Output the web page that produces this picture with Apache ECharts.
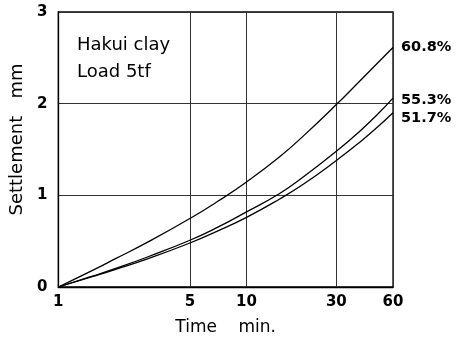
<!DOCTYPE html>
<html>
<head>
<meta charset="utf-8">
<script src="https://cdn.jsdelivr.net/npm/echarts@6/dist/echarts.min.js"></script>
<style>html,body{margin:0;padding:0;background:#fff;}#c{width:457px;height:341px;}</style>
</head>
<body>
<div id="c"></div>
<script>
// Time (min) sampling points
const times = [1, 1.5, 2, 3, 5, 7, 10, 15, 20, 30, 40, 50, 60];
// Settlement (mm)
const s608 = [0, 0.176, 0.306, 0.492, 0.747, 0.932, 1.146, 1.421, 1.646, 1.99, 2.248, 2.449, 2.613];
const s553 = [0, 0.115, 0.20, 0.33, 0.51, 0.65, 0.82, 1.02, 1.20, 1.48, 1.70, 1.89, 2.06];
const s517 = [0, 0.11, 0.19, 0.31, 0.48, 0.61, 0.76, 0.96, 1.12, 1.38, 1.58, 1.75, 1.90];
const seriesNames = ['60.8%', '55.3%', '51.7%'];
const xTicks = [1, 5, 10, 30, 60];

const font = 'DejaVu Sans';
const pair = arr => times.map((t, i) => [t, arr[i]]);
const mk = (name, arr, off) => ({
  name, type: 'line', data: pair(arr), smooth: true, symbol: 'none',
  lineStyle: {color: '#000', width: 1.3},
  endLabel: {show: true, formatter: '{a}', color: '#000', fontFamily: font,
    fontWeight: 'bold', fontSize: 14.5, distance: 8, offset: off}
});

const chart = echarts.init(document.getElementById('c'));
chart.setOption({
  animation: false,
  backgroundColor: '#fff',
  title: {
    text: 'Hakui clay\nLoad 5tf', left: 72, top: 27,
    textStyle: {fontFamily: font, fontSize: 18, fontWeight: 'normal', color: '#000', lineHeight: 27}
  },
  grid: {left: 57, right: 64, top: 12, bottom: 53, show: true, borderColor: '#000', borderWidth: 1.3},
  xAxis: {
    type: 'log', logBase: 10, min: 1, max: 60,
    name: 'Time    min.', nameLocation: 'middle', nameGap: 32,
    nameTextStyle: {fontFamily: font, fontSize: 17, color: '#000'},
    axisLine: {show: true, lineStyle: {color: '#000', width: 1.3}},
    axisTick: {show: false, customValues: xTicks},
    axisLabel: {customValues: xTicks, color: '#000', fontFamily: font, fontWeight: 'bold', fontSize: 15, margin: 8},
    splitLine: {show: true, lineStyle: {color: '#333', width: 1}},
    minorTick: {show: false}, minorSplitLine: {show: false}
  },
  yAxis: {
    type: 'value', min: 0, max: 3, interval: 1,
    name: 'Settlement   mm', nameLocation: 'middle', nameGap: 30,
    nameTextStyle: {fontFamily: font, fontSize: 18, color: '#000', padding: [0, 0, 0, 20]},
    axisLine: {show: true, lineStyle: {color: '#000', width: 1.3}},
    axisTick: {show: false},
    axisLabel: {color: '#000', fontFamily: font, fontWeight: 'bold', fontSize: 15, margin: 11},
    splitLine: {show: true, lineStyle: {color: '#333', width: 1}}
  },
  series: [mk(seriesNames[0], s608, [0, 0]), mk(seriesNames[1], s553, [0, 2]), mk(seriesNames[2], s517, [0, 5])]
});
</script>
</body>
</html>
